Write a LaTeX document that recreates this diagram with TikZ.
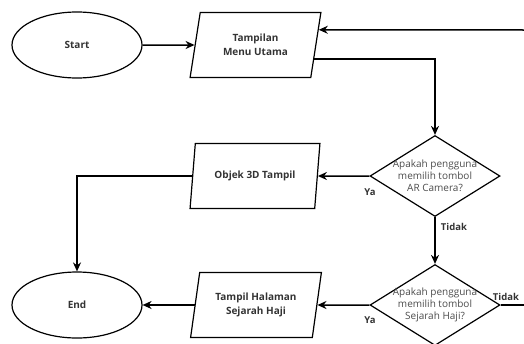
\documentclass[tikz,border=0pt]{standalone}
\usepackage{fontspec}
\setmainfont{Open Sans}
\usetikzlibrary{shapes.geometric,arrows.meta,calc}
\begin{document}
\begin{tikzpicture}[x=1pt,y=-1pt,
  txt/.style={text=black!80, font=\fontsize{10}{14}\selectfont\bfseries, align=center},
  term/.style={ellipse, draw, line width=1.2pt, minimum width=130pt, minimum height=66pt, txt},
  io/.style={trapezium, trapezium left angle=77, trapezium right angle=103, trapezium stretches=true, draw, line width=1.2pt, minimum width=131pt, minimum height=65pt, txt},
  dec/.style={diamond, draw, line width=1.2pt, minimum width=130pt, minimum height=81pt, inner sep=0pt},
  dectxt/.style={text=black!70, font=\fontsize{10}{12}\selectfont, align=center},
  flow/.style={line width=1.5pt, -{Stealth[length=9pt,width=8pt]}},
  plain/.style={line width=1.5pt},
  lbl/.style={text=black!80, font=\fontsize{9.5}{10}\selectfont\bfseries, inner sep=0pt}]
\useasboundingbox (0,0) rectangle (524,343);

\node[term] (start) at (77,45) {Start};
\node[io] (tmu) at (255.5,45) {Tampilan\\Menu Utama};
\node[dec] (d1) at (435,176) {};
\node[dectxt] (d1t) at (435,176) {Apakah pengguna\\memilih tombol\\AR Camera?};
\node[io] (obj) at (255,176) {Objek 3D Tampil};
\node[term] (end) at (77,305) {End};
\node[io] (ths) at (256,305) {Tampil Halaman\\Sejarah Haji};
\node[dec] (d2) at (435,305) {};
\node[dectxt] (d2t) at (435,305) {Apakah pengguna\\memilih tombol\\Sejarah Haji?};

\coordinate (rin) at (524,30);
\coordinate (rout) at (524,305);

\draw[flow] (start) -- (tmu);
\draw[flow] (rin) -- ($(tmu.top right corner)!0.27!(tmu.bottom right corner)$);
\draw[flow] ($(tmu.top right corner)!0.71!(tmu.bottom right corner)$) -| (d1.north);
\draw[flow] (d1.west) -- (obj);
\draw[flow] (obj.left side) -| (end.north);
\draw[flow] (d1.south) -- (d2.north);
\draw[flow] (d2.west) -- (ths);
\draw[flow] (ths.left side) -- (end);
\draw[plain] (d2.east) -- (rout);

\node[lbl] (ya1) at (370,192) {Ya};
\node[lbl] (tidak1) at (454,227) {Tidak};
\node[lbl] (tidak2) at (506,297) {Tidak};
\node[lbl] (ya2) at (370,320) {Ya};
\end{tikzpicture}
\end{document}
